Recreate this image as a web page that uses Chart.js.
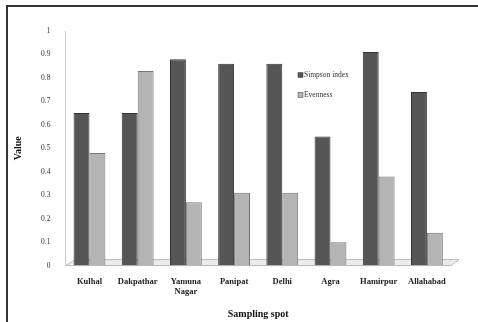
<!DOCTYPE html>
<html>
<head>
<meta charset="utf-8">
<script src="https://cdn.jsdelivr.net/npm/chart.js@4.4.1/dist/chart.umd.min.js"></script>
<style>
  html, body { margin: 0; padding: 0; background: #fff; }
  #wrap { position: relative; width: 478px; height: 322px; }
  #frame { position: absolute; left: 6px; top: 5px; right: -4px; bottom: -4px; border-left: 2px solid #333; border-top: 2px solid #333; }
  canvas { position: absolute; left: 0; top: 0; }
</style>
</head>
<body>
<div id="wrap">
  <div id="frame"></div>
  <canvas id="chart" width="478" height="322"></canvas>
</div>
<script>
  var spots = ['Kulhal', 'Dakpathar', ['Yamuna', 'Nagar'], 'Panipat', 'Delhi', 'Agra', 'Hamirpur', 'Allahabad'];
  var simpson = [0.65, 0.65, 0.88, 0.86, 0.86, 0.55, 0.91, 0.74];
  var evenness = [0.48, 0.83, 0.27, 0.31, 0.31, 0.10, 0.38, 0.14];
  var seriesNames = ['Simpson index', 'Evenness'];

  var serif = 'Liberation Serif, Times New Roman, serif';

  var legendPlugin = {
    id: 'sideLegend',
    afterDraw: function (chart) {
      var ctx = chart.ctx;
      var items = [
        { name: seriesNames[0], fill: '#555555' },
        { name: seriesNames[1], fill: '#b4b4b4' }
      ];
      ctx.save();
      ctx.font = '7.5px ' + serif;
      ctx.textBaseline = 'middle';
      items.forEach(function (it, i) {
        var x = 298, y = 75 + i * 20;
        ctx.fillStyle = it.fill;
        ctx.strokeStyle = '#444';
        ctx.lineWidth = 0.5;
        ctx.fillRect(x, y - 2.5, 5, 5);
        ctx.strokeRect(x, y - 2.5, 5, 5);
        ctx.fillStyle = '#333';
        ctx.fillText(it.name, x + 6, y);
      });
      ctx.restore();
    }
  };

  var floorPlugin = {
    id: 'floor',
    beforeDatasetsDraw: function (chart) {
      var a = chart.chartArea;
      var ctx = chart.ctx;
      ctx.save();
      ctx.fillStyle = '#ececec';
      ctx.strokeStyle = '#bbbbbb';
      ctx.lineWidth = 1;
      ctx.beginPath();
      ctx.moveTo(a.left, a.bottom);
      ctx.lineTo(a.left + 10, a.bottom - 6);
      ctx.lineTo(a.right + 8, a.bottom - 6);
      ctx.lineTo(a.right, a.bottom);
      ctx.closePath();
      ctx.fill();
      ctx.stroke();
      ctx.restore();
    }
  };

  new Chart(document.getElementById('chart'), {
    type: 'bar',
    data: {
      labels: spots,
      datasets: [{
        label: seriesNames[0],
        data: simpson,
        backgroundColor: '#555555',
        borderColor: '#333333',
        borderWidth: 1,
        categoryPercentage: 0.66,
        barPercentage: 1
      }, {
        label: seriesNames[1],
        data: evenness,
        backgroundColor: '#b4b4b4',
        borderColor: '#777777',
        borderWidth: 1,
        categoryPercentage: 0.66,
        barPercentage: 1
      }]
    },
    options: {
      responsive: false,
      animation: false,
      layout: { padding: { top: 31, right: 27, left: 8, bottom: 0 } },
      plugins: {
        legend: { display: false },
        tooltip: { enabled: false }
      },
      scales: {
        x: {
          grid: { display: false },
          border: { color: '#bbbbbb' },
          ticks: { color: '#222', font: { family: serif, size: 8.5, weight: 'bold' }, maxRotation: 0, padding: 3 },
          title: { display: true, text: 'Sampling spot', color: '#111', font: { family: serif, size: 10, weight: 'bold' }, padding: { top: 8, bottom: 2 } }
        },
        y: {
          min: 0,
          max: 1,
          grid: { display: false },
          border: { color: '#cccccc' },
          ticks: {
            stepSize: 0.1,
            color: '#333',
            font: { family: serif, size: 7.5 },
            padding: 7,
            callback: function (v) { return String(Math.round(v * 10) / 10); }
          },
          title: { display: true, text: 'Value', color: '#111', font: { family: serif, size: 10, weight: 'bold' }, padding: { bottom: 10 } }
        }
      }
    },
    plugins: [floorPlugin, legendPlugin]
  });
</script>
</body>
</html>
